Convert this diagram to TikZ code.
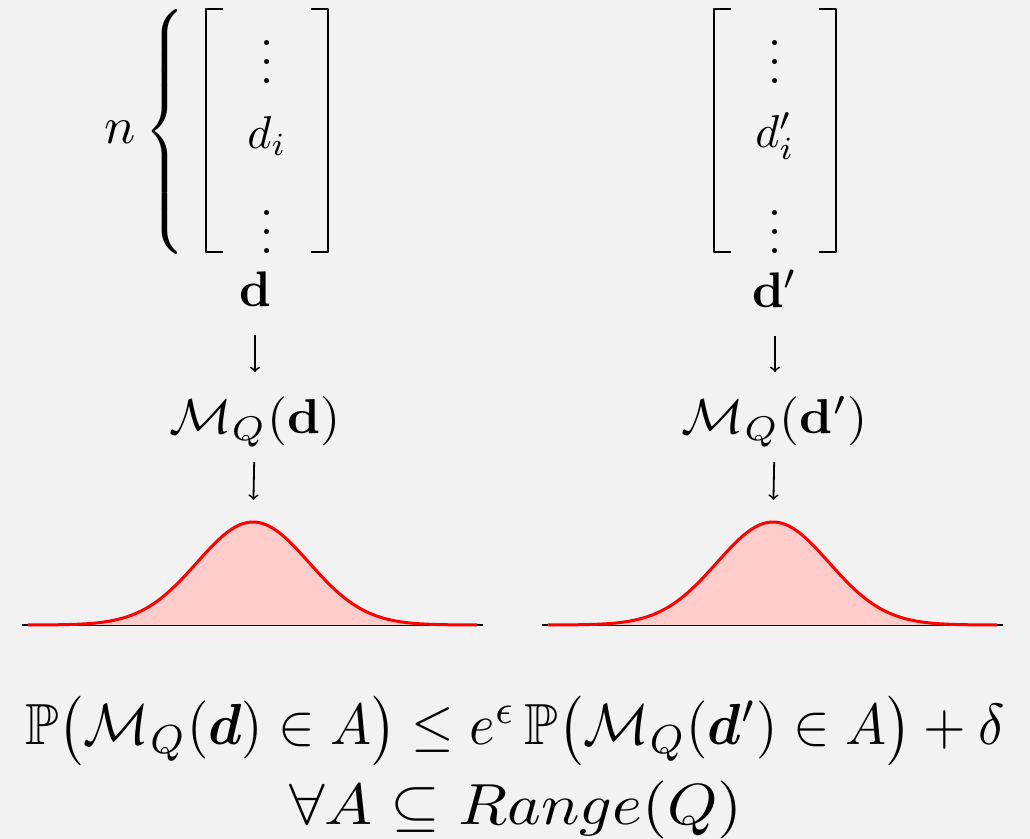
\documentclass[tikz,border=0pt]{standalone}
\usepackage{amsmath,amssymb,bm}
\tikzset{
  txt/.style={inner sep=0pt},
  bracket/.style={line width=1.2pt, line cap=butt},
  flow/.style={->, >=to, line width=0.9pt},
  bell/.style={draw=red, line width=1.5pt, fill=red!20},
  formula/.style={inner sep=0pt, anchor=base}
}
\newcommand{\bigvdots}{\scalebox{2.35}{$\vdots$}}
\begin{document}
\begin{tikzpicture}[x=0.5pt, y=-0.5pt, line join=round]
	\fill[black!5] (0,0) rectangle (1030,839);
	\useasboundingbox (0,0) rectangle (1030,839);
	
	% the two data vectors and what the mechanism does to them
	\foreach \mx/\ax/\s/\p in {267/255/l/{}, 775/775/r/{'}} {
		\draw[bracket] (\mx-44,9) -| (\mx-61,252) -- (\mx-44,252);
		\draw[bracket] (\mx+44,9) -| (\mx+61,252) -- (\mx+44,252);
		\node[txt] (top\s) at (\mx,48) {\bigvdots};
		\node[txt] (di\s) at (\mx,136) {\scalebox{2.3}{$d\p_i$}};
		\node[txt] (bot\s) at (\mx,218) {\bigvdots};
		\node[txt] (d\s) at (\ax,289) {\scalebox{2.5}{$\mathbf{d}\p$}};
		\node[txt] (m\s) at (\ax,422) {\scalebox{2.6}[2.45]{$\mathcal{M}_Q(\mathbf{d}\p)$}};
		\coordinate (pk\s) at (\ax-2,522);
		\draw[flow, shorten <=14pt, shorten >=12pt] (d\s) -- (m\s);
		\draw[flow, shorten <=7pt, shorten >=11pt] (m\s) -- (pk\s);
		
		\draw[line width=0.8pt] (\ax-233,625) -- (\ax+228,625);
		\draw[bell, domain=\ax-227:\ax+222, samples=120] %
		plot (\x, {625-103*exp(-0.5*((\x-\ax+2)/56)^2)});
	}
	\node[txt, font=\fontsize{23}{28}\selectfont] (brace) at (166,133)
	{\scalebox{1}[1.11]{$\left\{\vrule height 50pt depth 50pt width 0pt\right.$}};
	\node[txt] (n) at (120,132) {\scalebox{2.6}{$n$}};
	
	\node[formula] (f1) at (515,745)
	{\scalebox{2.74}[2.9]{$\mathbb{P}\big(\mathcal{M}_Q(\bm{d})\in A\big)\leq e^{\epsilon}\,\mathbb{P}\big(\mathcal{M}_Q(\bm{d}')\in A\big)+\delta$}};
	\node[formula] (f2) at (516,825)
	{\scalebox{3.2}[2.9]{$\forall A\subseteq Range(Q)$}};
\end{tikzpicture}
\end{document}
